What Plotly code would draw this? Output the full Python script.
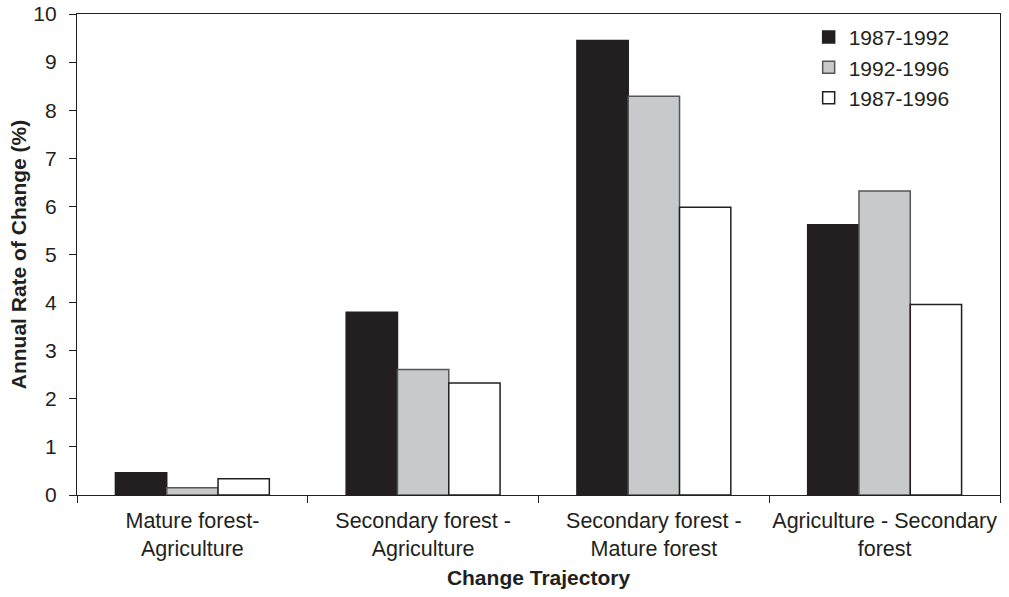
import plotly.graph_objects as go

categories = [
    "Mature forest-<br>Agriculture",
    "Secondary forest -<br>Agriculture",
    "Secondary forest -<br>Mature forest",
    "Agriculture - Secondary<br>forest",
]
series_names = ["1987-1992", "1992-1996", "1987-1996"]
v_1987_1992 = [0.46, 3.80, 9.45, 5.62]
v_1992_1996 = [0.15, 2.61, 8.29, 6.32]
v_1987_1996 = [0.34, 2.33, 5.98, 3.96]
y_ticks = [0, 1, 2, 3, 4, 5, 6, 7, 8, 9, 10]

fills = ["#231f20", "#c8c9cb", "#ffffff"]
edges = ["#231f20", "#555555", "#231f20"]

fig = go.Figure()
for name, vals, fc, ec in zip(series_names, [v_1987_1992, v_1992_1996, v_1987_1996], fills, edges):
    fig.add_trace(go.Bar(
        x=categories, y=vals, name=name,
        marker=dict(color=fc, line=dict(color=ec, width=1.5)),
    ))

font_family = "Liberation Sans, Arial, sans-serif"
fig.update_layout(
    width=1009, height=597,
    margin=dict(l=77, r=9, t=14, b=102),
    paper_bgcolor="white", plot_bgcolor="white",
    barmode="group", bargap=0.333, bargroupgap=0,
    font=dict(family=font_family, size=21, color="#231f20"),
    showlegend=True,
    legend=dict(
        x=0.7927, y=0.994, xanchor="left", yanchor="top",
        bgcolor="rgba(0,0,0,0)", font=dict(size=21),
        tracegroupgap=0, itemwidth=30,
    ),
)
fig.update_xaxes(
    showline=True, linecolor="#231f20", linewidth=1.2, mirror=True,
    ticks="outside", ticklen=7, tickcolor="#231f20", tickwidth=1.2,
    tickson="boundaries", showgrid=False, tickangle=0, automargin=False,
    tickfont=dict(size=21.5), ticklabelstandoff=6,
    title=dict(text="<b>Change Trajectory</b>", font=dict(size=21), standoff=10),
)
fig.update_yaxes(
    range=[0, 10], tickvals=y_ticks, automargin=False,
    showline=True, linecolor="#231f20", linewidth=1.2, mirror=True,
    ticks="outside", ticklen=7, tickcolor="#231f20", tickwidth=1.2,
    showgrid=False, zeroline=False,
    tickfont=dict(size=21), ticklabelstandoff=8,
    title=dict(text="<b>Annual Rate of Change (%)</b>", font=dict(size=21), standoff=0),
)

fig.write_html(
    "out.html",
    config={"displayModeBar": False},
    post_script="document.body.style.margin='0';document.body.style.padding='0';",
)
